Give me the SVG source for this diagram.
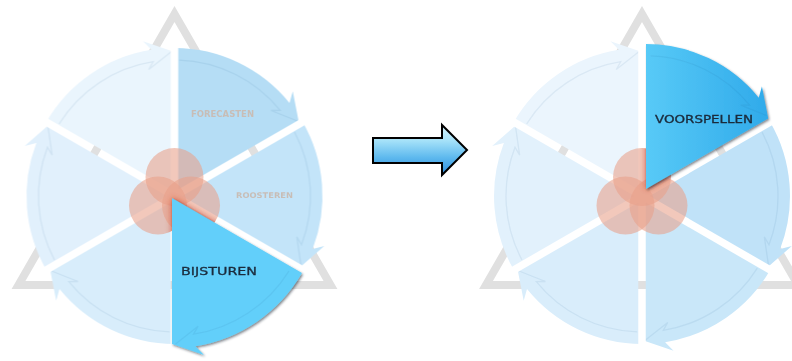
<svg xmlns="http://www.w3.org/2000/svg" xmlns:xlink="http://www.w3.org/1999/xlink" width="792" height="361" viewBox="0 0 792 361">
<defs>
<style>
.tri{fill:none;stroke:#E0E0E0;stroke-width:8;stroke-linejoin:miter}
.band{fill:none;stroke:#1E5A8C;stroke-opacity:.08;stroke-width:1.3}
.venn{fill:#E8A08A;fill-opacity:.58}
.muted{font-family:"DejaVu Sans","Liberation Sans",sans-serif;font-weight:bold;fill:#C8BDB6}
.lbl{font-family:"DejaVu Sans","Liberation Sans",sans-serif;fill:#1B2B3C;stroke:#1B2B3C;stroke-width:0.3}
</style>
<g id="sec">
<path d="M0,0 L0,-148 A148,148 0 0,1 115,-93.1 L118.3,-104.7 L124.7,-72 Z"/>
<path class="band" d="M4.75,-135.9 A136,136 0 0,1 105.7,-85.6 L96.6,-85.5 L122.9,-75"/>
</g>
<mask id="gaps" maskUnits="userSpaceOnUse" x="-200" y="-200" width="400" height="400">
<rect x="-200" y="-200" width="400" height="400" fill="#fff"/>
<g stroke="#000" stroke-width="7.5">
<line x1="0" y1="-180" x2="0" y2="180"/>
<line x1="-156" y1="90" x2="156" y2="-90"/>
<line x1="-156" y1="-90" x2="156" y2="90"/>
</g>
</mask>
<clipPath id="vennclip">
<circle cx="0" cy="-19" r="29"/>
<circle cx="-16.5" cy="9.5" r="29"/>
<circle cx="16.5" cy="9.5" r="29"/>
</clipPath>
<filter id="blur" x="-20%" y="-20%" width="140%" height="140%">
<feGaussianBlur stdDeviation="3"/>
</filter>
<filter id="ds" x="-10%" y="-10%" width="120%" height="120%">
<feDropShadow dx="1.2" dy="1.5" stdDeviation="1.2" flood-color="#1A2838" flood-opacity="0.55"/>
</filter>
<linearGradient id="hv" x1="0" y1="0" x2="1" y2="0">
<stop offset="0" stop-color="#58CAF7"/>
<stop offset="1" stop-color="#30AAEA"/>
</linearGradient>
<linearGradient id="ag" gradientUnits="userSpaceOnUse" x1="0" y1="125" x2="0" y2="175">
<stop offset="0" stop-color="#D5F4FD"/>
<stop offset="0.3" stop-color="#A8E3F9"/>
<stop offset="0.65" stop-color="#5EB9EE"/>
<stop offset="1" stop-color="#2D8BDB"/>
</linearGradient>
</defs>

<rect width="792" height="361" fill="#fff"/>

<g id="cycle-left">
<polygon class="tri" points="174.5,14 330.5,285 18.5,285"/>
<g transform="translate(174.5,196)">
<g id="left-sectors" mask="url(#gaps)">
<use href="#sec" fill="#B5DDF5"/>
<use href="#sec" fill="#C3E4F9" transform="rotate(60)"/>
<use href="#sec" fill="#D8EDFB" transform="rotate(180)"/>
<use href="#sec" fill="#E1F0FC" transform="rotate(240)"/>
<use href="#sec" fill="#EAF5FD" transform="rotate(300)"/>
</g>
<g id="left-venn">
<circle class="venn" cx="0" cy="-19" r="29"/>
<circle class="venn" cx="-16.5" cy="9.5" r="29"/>
<circle class="venn" cx="16.5" cy="9.5" r="29"/>
</g>
<g clip-path="url(#vennclip)">
<use href="#sec" fill="#C8361A" opacity=".8" filter="url(#blur)" transform="translate(-2.5,2) rotate(120) scale(1.014)"/>
</g>
</g>
<g id="node-bijsturen">
<g filter="url(#ds)"><use href="#sec" fill="#62CFFA" transform="translate(172,198) rotate(120) scale(1.014)"/></g>
<text class="lbl" x="181" y="275" font-size="10.8" textLength="76" lengthAdjust="spacingAndGlyphs">BIJSTUREN</text>
</g>
<g id="node-forecasten"><text class="muted" x="191" y="116.7" font-size="9" textLength="63" lengthAdjust="spacingAndGlyphs">FORECASTEN</text></g>
<g id="node-roosteren"><text class="muted" x="236" y="197.7" font-size="7.8" textLength="57" lengthAdjust="spacingAndGlyphs">ROOSTEREN</text></g>
</g>

<g id="connectors">
<path d="M373,138 H442 V125 L467,150 L442,175 V163 H373 Z" fill="url(#ag)" stroke="#000" stroke-width="2" stroke-linejoin="miter"/>
</g>

<g id="cycle-right">
<polygon class="tri" points="642,14 798,285 486,285"/>
<g transform="translate(642,196)">
<g id="right-sectors" mask="url(#gaps)">
<use href="#sec" fill="#C0E2F8" transform="rotate(60)"/>
<use href="#sec" fill="#C9E7F9" transform="rotate(120)"/>
<use href="#sec" fill="#D9EDFB" transform="rotate(180)"/>
<use href="#sec" fill="#E2F1FC" transform="rotate(240)"/>
<use href="#sec" fill="#EBF5FD" transform="rotate(300)"/>
</g>
<g id="right-venn">
<circle class="venn" cx="0" cy="-19" r="29"/>
<circle class="venn" cx="-16.5" cy="9.5" r="29"/>
<circle class="venn" cx="16.5" cy="9.5" r="29"/>
</g>
<g clip-path="url(#vennclip)">
<use href="#sec" fill="#C8361A" opacity=".8" filter="url(#blur)" transform="translate(4,-7) scale(0.98)"/>
</g>
</g>
<g id="node-voorspellen">
<g filter="url(#ds)"><use href="#sec" fill="url(#hv)" transform="translate(646,189) scale(0.98)"/></g>
<text class="lbl" x="655" y="122.5" font-size="9.8" textLength="98" lengthAdjust="spacingAndGlyphs">VOORSPELLEN</text>
</g>
</g>
</svg>
